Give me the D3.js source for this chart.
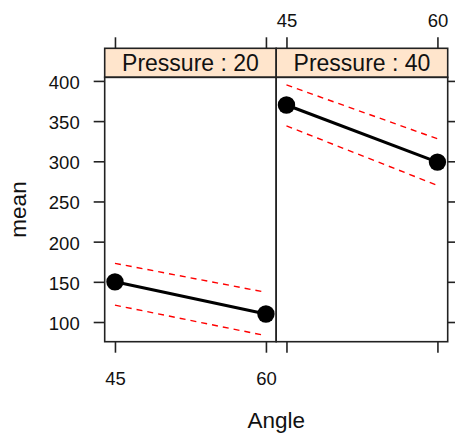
<!DOCTYPE html>
<html>
<head>
<meta charset="utf-8">
<script src="https://cdn.jsdelivr.net/npm/d3@7"></script>
<style>
  body { margin: 0; background: #fff; }
  svg text { font-family: "Liberation Sans", Arial, sans-serif; fill: #111; }
</style>
</head>
<body>
<div id="chart"></div>
<script>
"use strict";

// data
var panels = ["Pressure : 20", "Pressure : 40"];
var angles = [45, 60];
var mean20 = [150, 110];
var mean40 = [370, 299];
var upper20 = [173, 137];
var lower20 = [121, 83];
var upper40 = [395, 328];
var lower40 = [344, 270];
var yTicks = [100, 150, 200, 250, 300, 350, 400];
var xTicks = [45, 60];

var width = 455, height = 433;

var svg = d3.select("#chart").append("svg")
	.attr("width", width)
	.attr("height", height);

// layout
var plotLeft = 104.7, plotRight = 447.7, stripTop = 48.3, stripH = 29, plotBottom = 341.7;
var plotTop = stripTop + stripH;
var panelW = (plotRight - plotLeft) / 2;
var tickLen = 11;

var y = d3.scaleLinear().domain([75.5, 404.5]).range([plotBottom, plotTop]);

var panelData = [
	{ name: panels[0], mean: mean20, upper: upper20, lower: lower20 },
	{ name: panels[1], mean: mean40, upper: upper40, lower: lower40 }
];

function linePath(x, vals) {
	return d3.line()
		.x(function(d, i) { return x(angles[i]); })
		.y(function(d) { return y(d); })(vals);
}

panelData.forEach(function(p, k) {
	var x0 = plotLeft + k * panelW;
	var x = d3.scaleLinear().domain([43.98, 61.02]).range([x0, x0 + panelW]);

	var g = svg.append("g");

	// confidence bands
	[p.upper, p.lower].forEach(function(vals) {
		g.append("path")
			.attr("d", linePath(x, vals))
			.attr("fill", "none")
			.attr("stroke", "#ff0000")
			.attr("stroke-width", 1.4)
			.attr("stroke-dasharray", "6,5");
	});

	// means
	g.append("path")
		.attr("d", linePath(x, p.mean))
		.attr("fill", "none")
		.attr("stroke", "#000")
		.attr("stroke-width", 3);

	g.selectAll("circle")
		.data(p.mean)
		.enter().append("circle")
		.attr("cx", function(d, i) { return x(angles[i]); })
		.attr("cy", function(d) { return y(d); })
		.attr("r", 8.7)
		.attr("fill", "#000");

	// strip
	g.append("rect")
		.attr("x", x0).attr("y", stripTop)
		.attr("width", panelW).attr("height", stripH)
		.attr("fill", "#ffe5cc")
		.attr("stroke", "#222")
		.attr("stroke-width", 1.6);

	g.append("text")
		.attr("x", x0 + panelW / 2)
		.attr("y", stripTop + 22.6)
		.attr("text-anchor", "middle")
		.style("font-size", "23px")
		.text(p.name);

	// panel frame
	g.append("rect")
		.attr("x", x0).attr("y", plotTop)
		.attr("width", panelW).attr("height", plotBottom - plotTop)
		.attr("fill", "none")
		.attr("stroke", "#222")
		.attr("stroke-width", 1.6);

	// x axes, labels bottom for first panel, top for second
	var axB = svg.append("g")
		.attr("transform", "translate(0," + plotBottom + ")")
		.call(d3.axisBottom(x).tickValues(xTicks).tickSize(tickLen).tickPadding(19)
			.tickFormat(k == 0 ? d3.format("d") : function() { return ""; }));
	var axT = svg.append("g")
		.attr("transform", "translate(0," + stripTop + ")")
		.call(d3.axisTop(x).tickValues(xTicks).tickSize(tickLen).tickPadding(10)
			.tickFormat(k == 1 ? d3.format("d") : function() { return ""; }));
	[axB, axT].forEach(function(a) {
		a.select(".domain").remove();
		a.selectAll("line").attr("stroke", "#222").attr("stroke-width", 1.6);
		a.selectAll("text").style("font-size", "18.5px").attr("fill", "#111");
	});
});

// y axes
var axL = svg.append("g")
	.attr("transform", "translate(" + plotLeft + ",0)")
	.call(d3.axisLeft(y).tickValues(yTicks).tickSize(tickLen).tickPadding(14));
var axR = svg.append("g")
	.attr("transform", "translate(" + plotRight + ",0)")
	.call(d3.axisRight(y).tickValues(yTicks).tickSize(tickLen).tickFormat(""));
[axL, axR].forEach(function(a) {
	a.select(".domain").remove();
	a.selectAll("line").attr("stroke", "#222").attr("stroke-width", 1.6);
	a.selectAll("text").style("font-size", "18.5px").attr("fill", "#111").attr("dy", "0.4em");
});

// axis titles
svg.append("text")
	.attr("x", (plotLeft + plotRight) / 2)
	.attr("y", 427.5)
	.attr("text-anchor", "middle")
	.style("font-size", "22.5px")
	.text("Angle");

svg.append("text")
	.attr("transform", "translate(26," + (plotTop + plotBottom) / 2 + ") rotate(-90)")
	.attr("text-anchor", "middle")
	.style("font-size", "22.5px")
	.text("mean");
</script>
</body>
</html>
